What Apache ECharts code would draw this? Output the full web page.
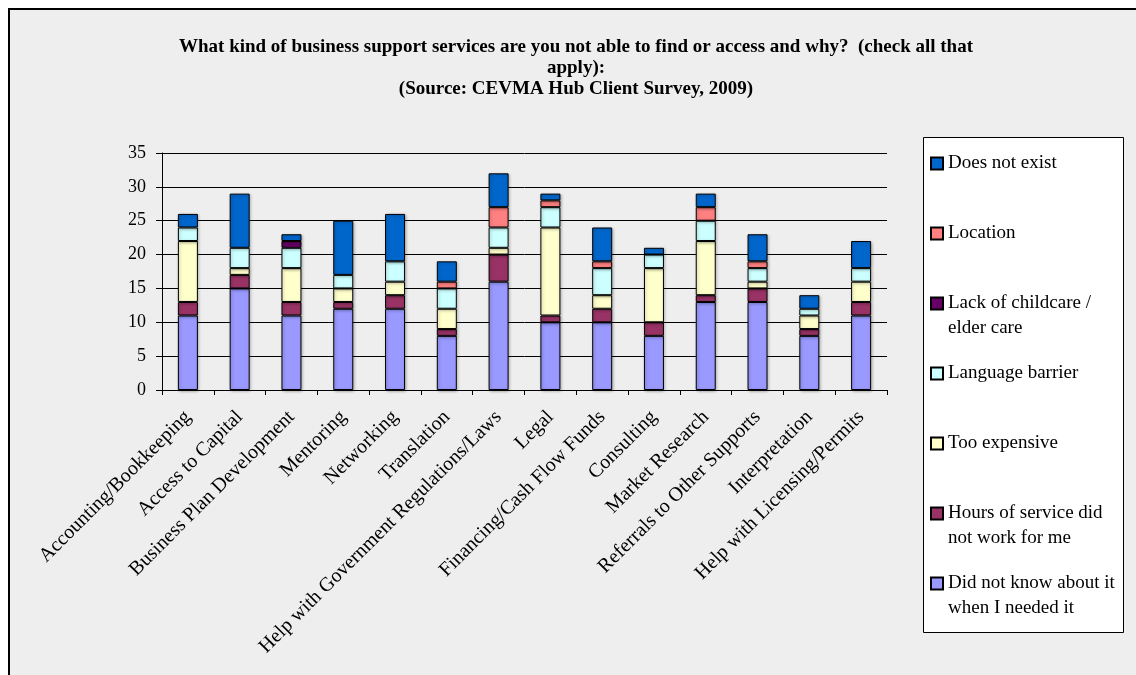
<!DOCTYPE html>
<html>
<head>
<meta charset="utf-8">
<script src="https://cdn.jsdelivr.net/npm/echarts@6/dist/echarts.min.js"></script>
<style>
  html, body { margin: 0; padding: 0; background: #fff; }
  #main { width: 1136px; height: 675px; }
</style>
</head>
<body>
<div id="main"></div>
<script>
// categories
var categories = [
  'Accounting/Bookkeeping', 'Access to Capital', 'Business Plan Development', 'Mentoring',
  'Networking', 'Translation', 'Help with Government Regulations/Laws', 'Legal',
  'Financing/Cash Flow Funds', 'Consulting', 'Market Research', 'Referrals to Other Supports',
  'Interpretation', 'Help with Licensing/Permits'
];
// series values (bottom of stack first)
var didNotKnow    = [11, 15, 11, 12, 12, 8, 16, 10, 10, 8, 13, 13, 8, 11];
var hoursService  = [2, 2, 2, 1, 2, 1, 4, 1, 2, 2, 1, 2, 1, 2];
var tooExpensive  = [9, 1, 5, 2, 2, 3, 1, 13, 2, 8, 8, 1, 2, 3];
var langBarrier   = [2, 3, 3, 2, 3, 3, 3, 3, 4, 2, 3, 2, 1, 2];
var childcare     = [0, 0, 1, 0, 0, 0, 0, 0, 0, 0, 0, 0, 0, 0];
var locationVals  = [0, 0, 0, 0, 0, 1, 3, 1, 1, 0, 2, 1, 0, 0];
var doesNotExist  = [2, 8, 1, 8, 7, 3, 5, 1, 5, 1, 2, 4, 2, 4];
var yTicks = [0, 35, 5]; // min, max, interval

var chartDom = document.getElementById('main');
var myChart = echarts.init(chartDom);

var serif = '"Liberation Serif", "Times New Roman", serif';

function makeSeries(name, values, color) {
  return {
    name: name,
    type: 'bar',
    stack: 'total',
    barWidth: 20,
    data: values.map(function (v) { return v === 0 ? null : v; }),
    itemStyle: {
      color: color,
      borderColor: '#000',
      borderWidth: 1,
      shadowColor: 'rgba(0, 0, 0, 0.3)',
      shadowBlur: 3,
      shadowOffsetX: 1,
      shadowOffsetY: 1
    }
  };
}

// legend entries: every item 75px tall, icon level with the first text line
function legendItem(name, twoLines) {
  if (twoLines) {
    return { name: name, icon: 'rect' };
  }
  return {
    name: name,
    icon: 'rect',
    textStyle: { backgroundColor: 'transparent', padding: [25, 0, 25, 0] }
  };
}

var option = {
  backgroundColor: '#fff',
  animation: false,
  graphic: [
    {
      type: 'rect', z: -10, silent: true,
      shape: { x: 9, y: 9, width: 1200, height: 700 },
      style: { fill: '#eeeeee', stroke: '#000', lineWidth: 2 }
    },
    {
      type: 'rect', z: -5, silent: true,
      shape: { x: 923.5, y: 137.5, width: 200, height: 495 },
      style: { fill: '#fff', stroke: '#000', lineWidth: 1 }
    }
  ],
  title: {
    text: 'What kind of business support services are you not able to find or access and why?  (check all that\napply):\n(Source: CEVMA Hub Client Survey, 2009)',
    left: 576,
    top: 37,
    padding: 0,
    textAlign: 'center',
    textStyle: {
      fontFamily: serif,
      fontSize: 19,
      fontWeight: 'bold',
      lineHeight: 21,
      color: '#000'
    }
  },
  legend: {
    orient: 'vertical',
    left: 930,
    top: 126,
    padding: 0,
    itemGap: -5,
    itemWidth: 12,
    itemHeight: 12,
    selectedMode: false,
    textStyle: { fontFamily: serif, fontSize: 19, lineHeight: 25, color: '#000' },
    formatter: function (name) {
      var map = {
        'Lack of childcare / elder care': '\nLack of childcare /\nelder care',
        'Hours of service did not work for me': '\nHours of service did\nnot work for me',
        'Did not know about it when I needed it': '\nDid not know about it\nwhen I needed it'
      };
      return map[name] || name;
    },
    data: [
      legendItem('Does not exist', false),
      legendItem('Location', false),
      legendItem('Lack of childcare / elder care', true),
      legendItem('Language barrier', false),
      legendItem('Too expensive', false),
      legendItem('Hours of service did not work for me', true),
      legendItem('Did not know about it when I needed it', true)
    ]
  },
  grid: {
    left: 162,
    right: 249,
    top: 153,
    bottom: 285
  },
  xAxis: {
    type: 'category',
    data: categories,
    axisLine: { lineStyle: { color: '#000', width: 1 } },
    axisTick: { show: true, length: 5, lineStyle: { color: '#000' } },
    axisLabel: {
      interval: 0,
      rotate: 45,
      margin: 24,
      fontFamily: serif,
      fontSize: 20,
      color: '#000'
    }
  },
  yAxis: {
    type: 'value',
    min: yTicks[0],
    max: yTicks[1],
    interval: yTicks[2],
    axisLine: { show: true, lineStyle: { color: '#000', width: 1 } },
    axisTick: { show: true, length: 6, lineStyle: { color: '#000' } },
    splitLine: { lineStyle: { color: '#000', width: 1 } },
    axisLabel: {
      margin: 16,
      fontFamily: serif,
      fontSize: 18,
      color: '#000'
    }
  },
  series: [
    makeSeries('Did not know about it when I needed it', didNotKnow, '#9999FF'),
    makeSeries('Hours of service did not work for me', hoursService, '#993366'),
    makeSeries('Too expensive', tooExpensive, '#FFFFCC'),
    makeSeries('Language barrier', langBarrier, '#CCFFFF'),
    makeSeries('Lack of childcare / elder care', childcare, '#660066'),
    makeSeries('Location', locationVals, '#FF8080'),
    makeSeries('Does not exist', doesNotExist, '#0066CC')
  ]
};

myChart.setOption(option);
</script>
</body>
</html>
